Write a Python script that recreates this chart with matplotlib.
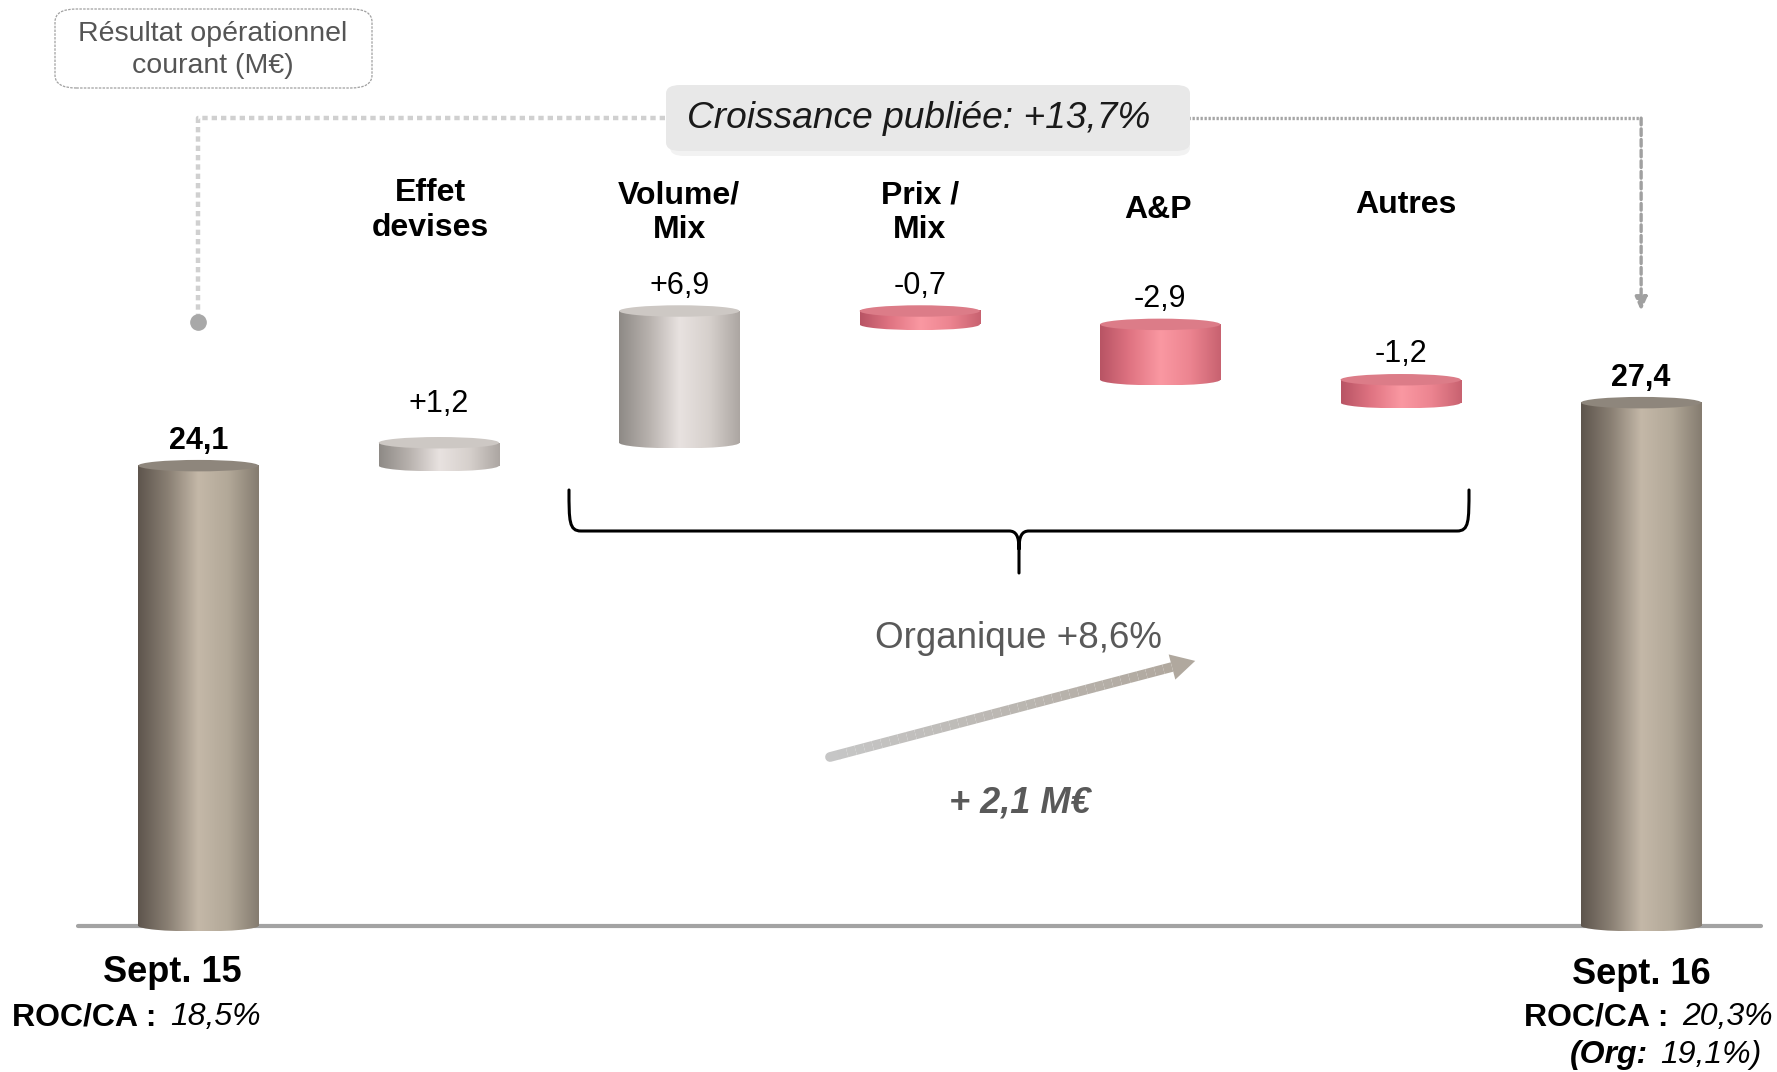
import numpy as np
import matplotlib
matplotlib.use("Agg")
import matplotlib.pyplot as plt
from matplotlib.colors import LinearSegmentedColormap
from matplotlib.patches import Ellipse, FancyBboxPatch, PathPatch, Polygon
from matplotlib.path import Path

plt.rcParams.update({'font.family': ['Liberation Sans', 'DejaVu Sans']})

# ---------- data ----------
categories = ["Sept. 15", "Effet\ndevises", "Volume/\nMix", "Prix /\nMix", "A&P", "Autres", "Sept. 16"]
values = [24.1, 1.2, 6.9, -0.7, -2.9, -1.2, 27.4]
value_labels = ["24,1", "+1,2", "+6,9", "-0,7", "-2,9", "-1,2", "27,4"]
kinds = ["total", "up", "up", "down", "down", "down", "total"]

W, H = 1777, 1072
fig = plt.figure(figsize=(W / 100, H / 100), dpi=100)
ax = fig.add_axes([0, 0, 1, 1])
ax.set_axis_off()

XLIM = (-0.825, 6.565)
YLIM = (-7.66, 48.49)


def px(x, y):
    # full-size pixel position (top-left origin) -> figure fraction
    return x / W, 1 - y / H


cmaps = {
    'total': LinearSegmentedColormap.from_list('t', ['#5e554d', '#8a8074', '#c4b8a8', '#b2a898', '#857c70']),
    'up': LinearSegmentedColormap.from_list('u', ['#8e8a86', '#b8b2ae', '#e8e2e0', '#d6d0cc', '#aca6a2']),
    'down': LinearSegmentedColormap.from_list('d', ['#b85464', '#e07482', '#fa98a2', '#ec8490', '#c86270']),
}
tops = {'total': '#8e867c', 'up': '#cdc8c4', 'down': '#dc7c88'}
grad = np.linspace(0, 1, 256).reshape(1, -1)

bw = 0.5      # bar width in category units
eh = 0.6      # ellipse height in value units


def cylinder(x, lo, hi, kind):
    cm = cmaps[kind]
    ax.imshow(grad, extent=(x - bw / 2, x + bw / 2, lo, hi), aspect='auto',
              cmap=cm, interpolation='bilinear', zorder=2)
    # rounded bottom
    bot = Ellipse((x, lo), bw, eh, transform=ax.transData, facecolor='none', edgecolor='none')
    ax.add_patch(bot)
    im = ax.imshow(grad, extent=(x - bw / 2, x + bw / 2, lo - eh / 2, lo), aspect='auto',
                   cmap=cm, interpolation='bilinear', zorder=2)
    im.set_clip_path(bot)
    ax.add_patch(Ellipse((x, hi), bw, eh, facecolor=tops[kind], edgecolor='none', zorder=3))


# ---------- waterfall cylinders ----------
running = 0.0
label_off = [18, 28, 18, 18, 18.5, 18.5, 18]
for i, (v, k) in enumerate(zip(values, kinds)):
    if k == 'total':
        lo, hi = 0, v
        running = v
    else:
        lo, hi = sorted([running, running + v])
        running += v
    cylinder(i, lo, hi, k)
    ax.annotate(value_labels[i], (i, hi), xytext=(0, label_off[i]), textcoords='offset points',
                ha='center', va='center', fontsize=22,
                fontweight='bold' if k == 'total' else 'normal', color='black', zorder=5)

# baseline
ax.plot([-0.5, 6.5], [0, 0], color='#a3a3a3', lw=3, solid_capstyle='round', zorder=1)

# category headers for the bridge steps
head_y = [37.45, 37.35, 37.35, 37.5, 37.75]
head_dx = [-0.035, 0, 0, -0.01, 0.02]
for i in range(1, 6):
    ax.text(i + head_dx[i - 1], head_y[i - 1], categories[i], ha='center', va='center', fontsize=23,
            fontweight='bold', linespacing=1.2, zorder=5)

# ---------- connector "Croissance publiée" ----------
ytop = 42.3
ax.plot([0, 0, 3], [31.8, ytop, ytop], color='#d0d0d0', lw=3.2, ls=(0, (1.2, 0.9)), zorder=1)
ax.plot([3, 6], [ytop, ytop], color='#a6a6a6', lw=2.4, ls=(0, (0.7, 0.5)), zorder=1)
ax.annotate('', xy=(6, 32.2), xytext=(6, ytop),
            arrowprops=dict(arrowstyle='-|>,head_width=0.35,head_length=0.8', color='#a0a0a0',
                            lw=2.4, ls=(0, (2, 1.2)), shrinkA=0, shrinkB=0), zorder=1)
ax.plot([0], [31.6], 'o', color='#a8a8a8', ms=11, zorder=2)

shadow = FancyBboxPatch(px(670, 156), (1190 - 670) / W, (156 - 90) / H,
                        boxstyle='round,pad=0,rounding_size=0.008', transform=fig.transFigure,
                        facecolor='#f2f2f2', edgecolor='none', zorder=3)
box = FancyBboxPatch(px(666, 151), (1190 - 666) / W, (151 - 85) / H,
                     boxstyle='round,pad=0,rounding_size=0.008', transform=fig.transFigure,
                     facecolor='#e8e8e8', edgecolor='none', zorder=4)
fig.add_artist(shadow)
fig.add_artist(box)
fig.text(*px(919, 119), "Croissance publiée: +13,7%", ha='center', va='center',
         fontsize=26.7, style='italic', color='#1a1a1a', zorder=5)

# ---------- title box ----------
tbox = FancyBboxPatch(px(55, 88), (372 - 55) / W, (88 - 9) / H,
                      boxstyle='round,pad=0,rounding_size=0.012', transform=fig.transFigure,
                      facecolor='white', edgecolor='#a0a0a0', lw=0.9, ls=(0, (2, 1)))
fig.add_artist(tbox)
fig.text(*px(213, 50), "Résultat opérationnel\ncourant (M€)", ha='center', va='center',
         fontsize=20.5, color='#555555', linespacing=1.3)

# ---------- brace ----------
xl, xr, xt = 569, 1469, 1019
yt, yh, yb = 490, 531, 573
verts = [px(xl, yt), px(xl, yh - 10), px(xl, yh), px(xl + 12, yh),
         px(xt - 10, yh),
         px(xt - 3, yh), px(xt, yh + 5), px(xt, yh + 18),
         px(xt, yb),
         px(xt, yh + 18),
         px(xt, yh + 5), px(xt + 3, yh), px(xt + 10, yh),
         px(xr - 12, yh),
         px(xr, yh), px(xr, yh - 10), px(xr, yt)]
codes = [Path.MOVETO, Path.CURVE4, Path.CURVE4, Path.CURVE4,
         Path.LINETO,
         Path.CURVE4, Path.CURVE4, Path.CURVE4,
         Path.LINETO,
         Path.MOVETO,
         Path.CURVE4, Path.CURVE4, Path.CURVE4,
         Path.LINETO,
         Path.CURVE4, Path.CURVE4, Path.CURVE4]
fig.add_artist(PathPatch(Path(verts, codes), transform=fig.transFigure, facecolor='none',
                         edgecolor='black', lw=2.2, capstyle='round', joinstyle='round'))

# ---------- organic growth arrow ----------
fig.text(*px(1018, 639), "Organique +8,6%", ha='center', va='center', fontsize=26.5, color='#595959')
x0, y0 = 830, 757
x1, y1 = 1172, 667
n = 40
xs = np.linspace(x0, x1, n + 1)
ys = np.linspace(y0, y1, n + 1)
arrow_cmap = LinearSegmentedColormap.from_list('a', ['#c6c6c6', '#b0a89e'])
for j in range(n):
    fig.add_artist(plt.Line2D([xs[j] / W, xs[j + 1] / W], [1 - ys[j] / H, 1 - ys[j + 1] / H],
                              color=arrow_cmap(j / n), lw=7,
                              solid_capstyle='round' if j == 0 else 'butt'))
d = np.array([x1 - x0, y1 - y0], float)
d /= np.linalg.norm(d)
nrm = np.array([-d[1], d[0]])
tip = np.array([x1 + d[0] * 24, y1 + d[1] * 24])
head = [tip, np.array([x1, y1]) + nrm * 13, np.array([x1, y1]) - nrm * 13]
fig.add_artist(Polygon([px(*p) for p in head], closed=True, transform=fig.transFigure,
                       facecolor='#b0a89e', edgecolor='none'))
fig.text(*px(1020, 803), "+ 2,1 M€", ha='center', va='center', fontsize=26,
         fontweight='bold', style='italic', color='#595959')

# ---------- bottom labels ----------
fig.text(*px(172, 972), categories[0], ha='center', va='center', fontsize=26, fontweight='bold')
fig.text(*px(1641, 974), categories[6], ha='center', va='center', fontsize=26, fontweight='bold')

fig.text(*px(156, 1017), "ROC/CA :", ha='right', va='center', fontsize=23, fontweight='bold')
fig.text(*px(170, 1017), "18,5%", ha='left', va='center', fontsize=23, style='italic')
fig.text(*px(1668, 1017), "ROC/CA :", ha='right', va='center', fontsize=23, fontweight='bold')
fig.text(*px(1682, 1017), "20,3%", ha='left', va='center', fontsize=23, style='italic')
fig.text(*px(1648, 1055), "(Org:", ha='right', va='center', fontsize=23,
         fontweight='bold', style='italic')
fig.text(*px(1660, 1055), "19,1%)", ha='left', va='center', fontsize=23, style='italic')

ax.set_xlim(*XLIM)
ax.set_ylim(*YLIM)

fig.savefig("out.png", dpi=100, facecolor='white')
